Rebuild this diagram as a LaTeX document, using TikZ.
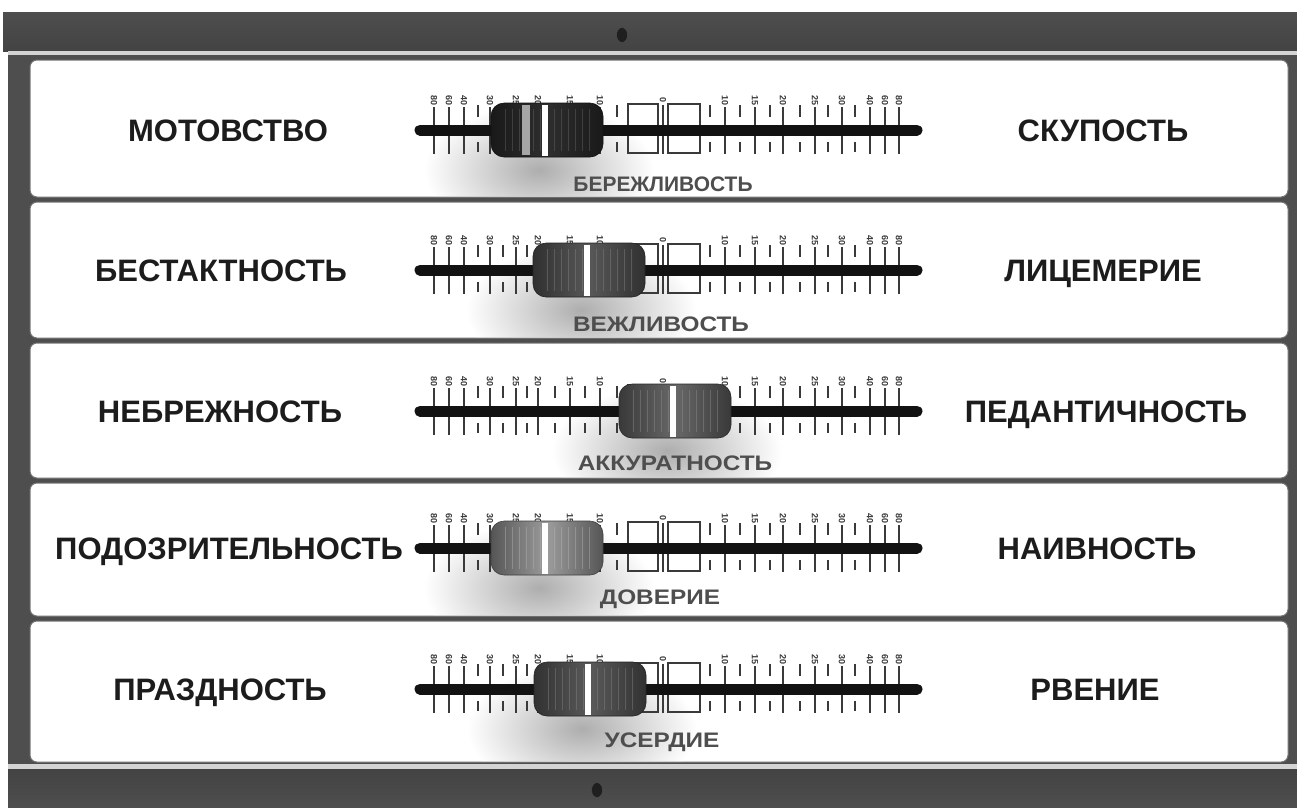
\documentclass[tikz,border=0pt]{standalone}
\usepackage{fontspec}
\setmainfont{Liberation Sans}
\usetikzlibrary{shapes.geometric}
\definecolor{framedark}{HTML}{434343}
\definecolor{framemid}{HTML}{4E4E4E}
\definecolor{frameline}{HTML}{D4D4D4}
\definecolor{inkc}{HTML}{1C1C1C}
\definecolor{capc}{HTML}{4E4E4E}
\definecolor{tickc}{HTML}{3A3A3A}
\definecolor{kA}{HTML}{2E2E2E}
\definecolor{kB}{HTML}{585858}
\definecolor{kC}{HTML}{686868}
\definecolor{kD}{HTML}{9C9C9C}
\definecolor{kE}{HTML}{5A5A5A}
\newcommand\drawscale[1]{%
  \foreach \xx/\tt in {434/80,449/60,464/40,490/30,516/25,538/20,570/15,600/10,725/10,755/15,783/20,815/25,842/30,870/40,885/60,899/80}{%
    \draw[tickline] ({\xx},{#1-23}) -- ({\xx},{#1+24});
    \node[numlab] at ({\xx},{#1-30}) {\tt};
  }
  \foreach \xx in {478,503,527,555,585,617,710,740,770,800,828,855}{%
    \draw[tickline] ({\xx},{#1-25}) -- ({\xx},{#1-13});
    \draw[tickline] ({\xx},{#1+12}) -- ({\xx},{#1+22});
  }
  \draw[tickc, line width=1.2pt] (628,{#1-26}) rectangle (658,{#1+23});
  \draw[tickc, line width=1.2pt] (668,{#1-26}) rectangle (700,{#1+23});
  \draw[tickc, line width=2.6pt] (663,{#1-25}) -- (663,{#1+24});
  \node[numlab] at (663,{#1-30}) {0};
}
\newcommand\sliderknob[3]{%
  \shade[left color=#3!55!black, right color=#3!55!black, middle color=#3, rounded corners=13pt, draw=#3!40!black, line width=0.6pt]
    ({#1-56},{#2-27}) rectangle ({#1+56},{#2+27});
  \foreach \g in {-42,-35,...,42}{%
    \draw[#3!70!white, line width=0.9pt, opacity=0.4] ({#1+\g},{#2-21}) -- ({#1+\g},{#2+21});
  }
  \fill[white] ({#1-5},{#2-25}) rectangle ({#1+1},{#2+26});
}
\newcommand\knobshadow[4]{% x, c, top, bottom of panel
  \begin{scope}
    \clip[rounded corners=7pt] (30,#3) rectangle (1288,#4);
    \shade[inner color=black!32, outer color=white] ({#1-8},{#2+40}) ellipse [x radius=115, y radius=66];
  \end{scope}
}
\begin{document}
\begin{tikzpicture}[x=1pt,y=-1pt,
  tickline/.style={tickc, line width=1.6pt},
  numlab/.style={font=\fontsize{9}{9}\selectfont\bfseries, text=tickc, rotate=-90, inner sep=0pt},
  bigword/.style={font=\fontsize{31}{31}\selectfont\bfseries, text=inkc, anchor=base, inner sep=0pt},
  capword/.style={font=\fontsize{21}{21}\selectfont\bfseries, text=capc, anchor=base, inner sep=0pt, xscale=1.16},
  panelbox/.style={fill=white, draw=black!55, line width=1pt, rounded corners=7pt},
  screw/.style={fill=black!88, draw=black!70, line width=0.5pt}]
\useasboundingbox (0,0) rectangle (1297,807);
\fill[white] (0,0) rectangle (1297,807);
% frame
\shade[top color=framemid, bottom color=framedark] (3,12) rectangle (1297,51);
\fill[frameline] (8,51) rectangle (1297,55);
\fill[framemid] (8,55) rectangle (1297,765);
\fill[frameline] (8,764) rectangle (1297,769);
\shade[top color=framedark, bottom color=framemid] (8,769) rectangle (1297,807);
\node[screw, ellipse, minimum width=11pt, minimum height=15pt, inner sep=0pt] (screwtop) at (622,35) {};
\node[screw, ellipse, minimum width=11pt, minimum height=15pt, inner sep=0pt] (screwbot) at (597,790) {};
% panels
\draw[panelbox] (30,60) rectangle (1288,197);
\draw[panelbox] (30,202) rectangle (1288,338);
\draw[panelbox] (30,343) rectangle (1288,478);
\draw[panelbox] (30,483) rectangle (1288,616);
\draw[panelbox] (30,621) rectangle (1288,762);
% shadows
\knobshadow{547}{130}{61}{196}
\knobshadow{589}{270}{203}{337}
\knobshadow{675}{411}{344}{477}
\knobshadow{547}{548}{484}{615}
\knobshadow{590}{689}{622}{761}
% scales
\drawscale{130}
\drawscale{270}
\drawscale{411}
\drawscale{548}
\drawscale{689}
% tracks
\foreach \c/\n in {130/a,270/b,411/c,548/d,689/e}{%
  \coordinate (tl\n) at (420,\c);
  \coordinate (tr\n) at (917,\c);
  \draw[black!93, line width=11pt, line cap=round] (tl\n) -- (tr\n);
}
% knobs
\sliderknob{547}{130}{kA}
\fill[black!35] (522,105) rectangle (530,155);
\sliderknob{589}{270}{kB}
\sliderknob{675}{411}{kC}
\sliderknob{547}{548}{kD}
\sliderknob{590}{689}{kE}
% words
\node[bigword] (l1) at (228,141) {МОТОВСТВО};
\node[bigword] (r1) at (1103,141) {СКУПОСТЬ};
\node[capword, xscale=0.86] (c1) at (663,191) {БЕРЕЖЛИВОСТЬ};
\node[bigword] (l2) at (221,281) {БЕСТАКТНОСТЬ};
\node[bigword] (r2) at (1103,281) {ЛИЦЕМЕРИЕ};
\node[capword] (c2) at (661,331) {ВЕЖЛИВОСТЬ};
\node[bigword] (l3) at (220,422) {НЕБРЕЖНОСТЬ};
\node[bigword] (r3) at (1106,422) {ПЕДАНТИЧНОСТЬ};
\node[capword] (c3) at (675,470) {АККУРАТНОСТЬ};
\node[bigword] (l4) at (229,559) {ПОДОЗРИТЕЛЬНОСТЬ};
\node[bigword] (r4) at (1097,559) {НАИВНОСТЬ};
\node[capword] (c4) at (660,604) {ДОВЕРИЕ};
\node[bigword] (l5) at (220,700) {ПРАЗДНОСТЬ};
\node[bigword] (r5) at (1095,700) {РВЕНИЕ};
\node[capword] (c5) at (662,747) {УСЕРДИЕ};
\end{tikzpicture}
\end{document}
